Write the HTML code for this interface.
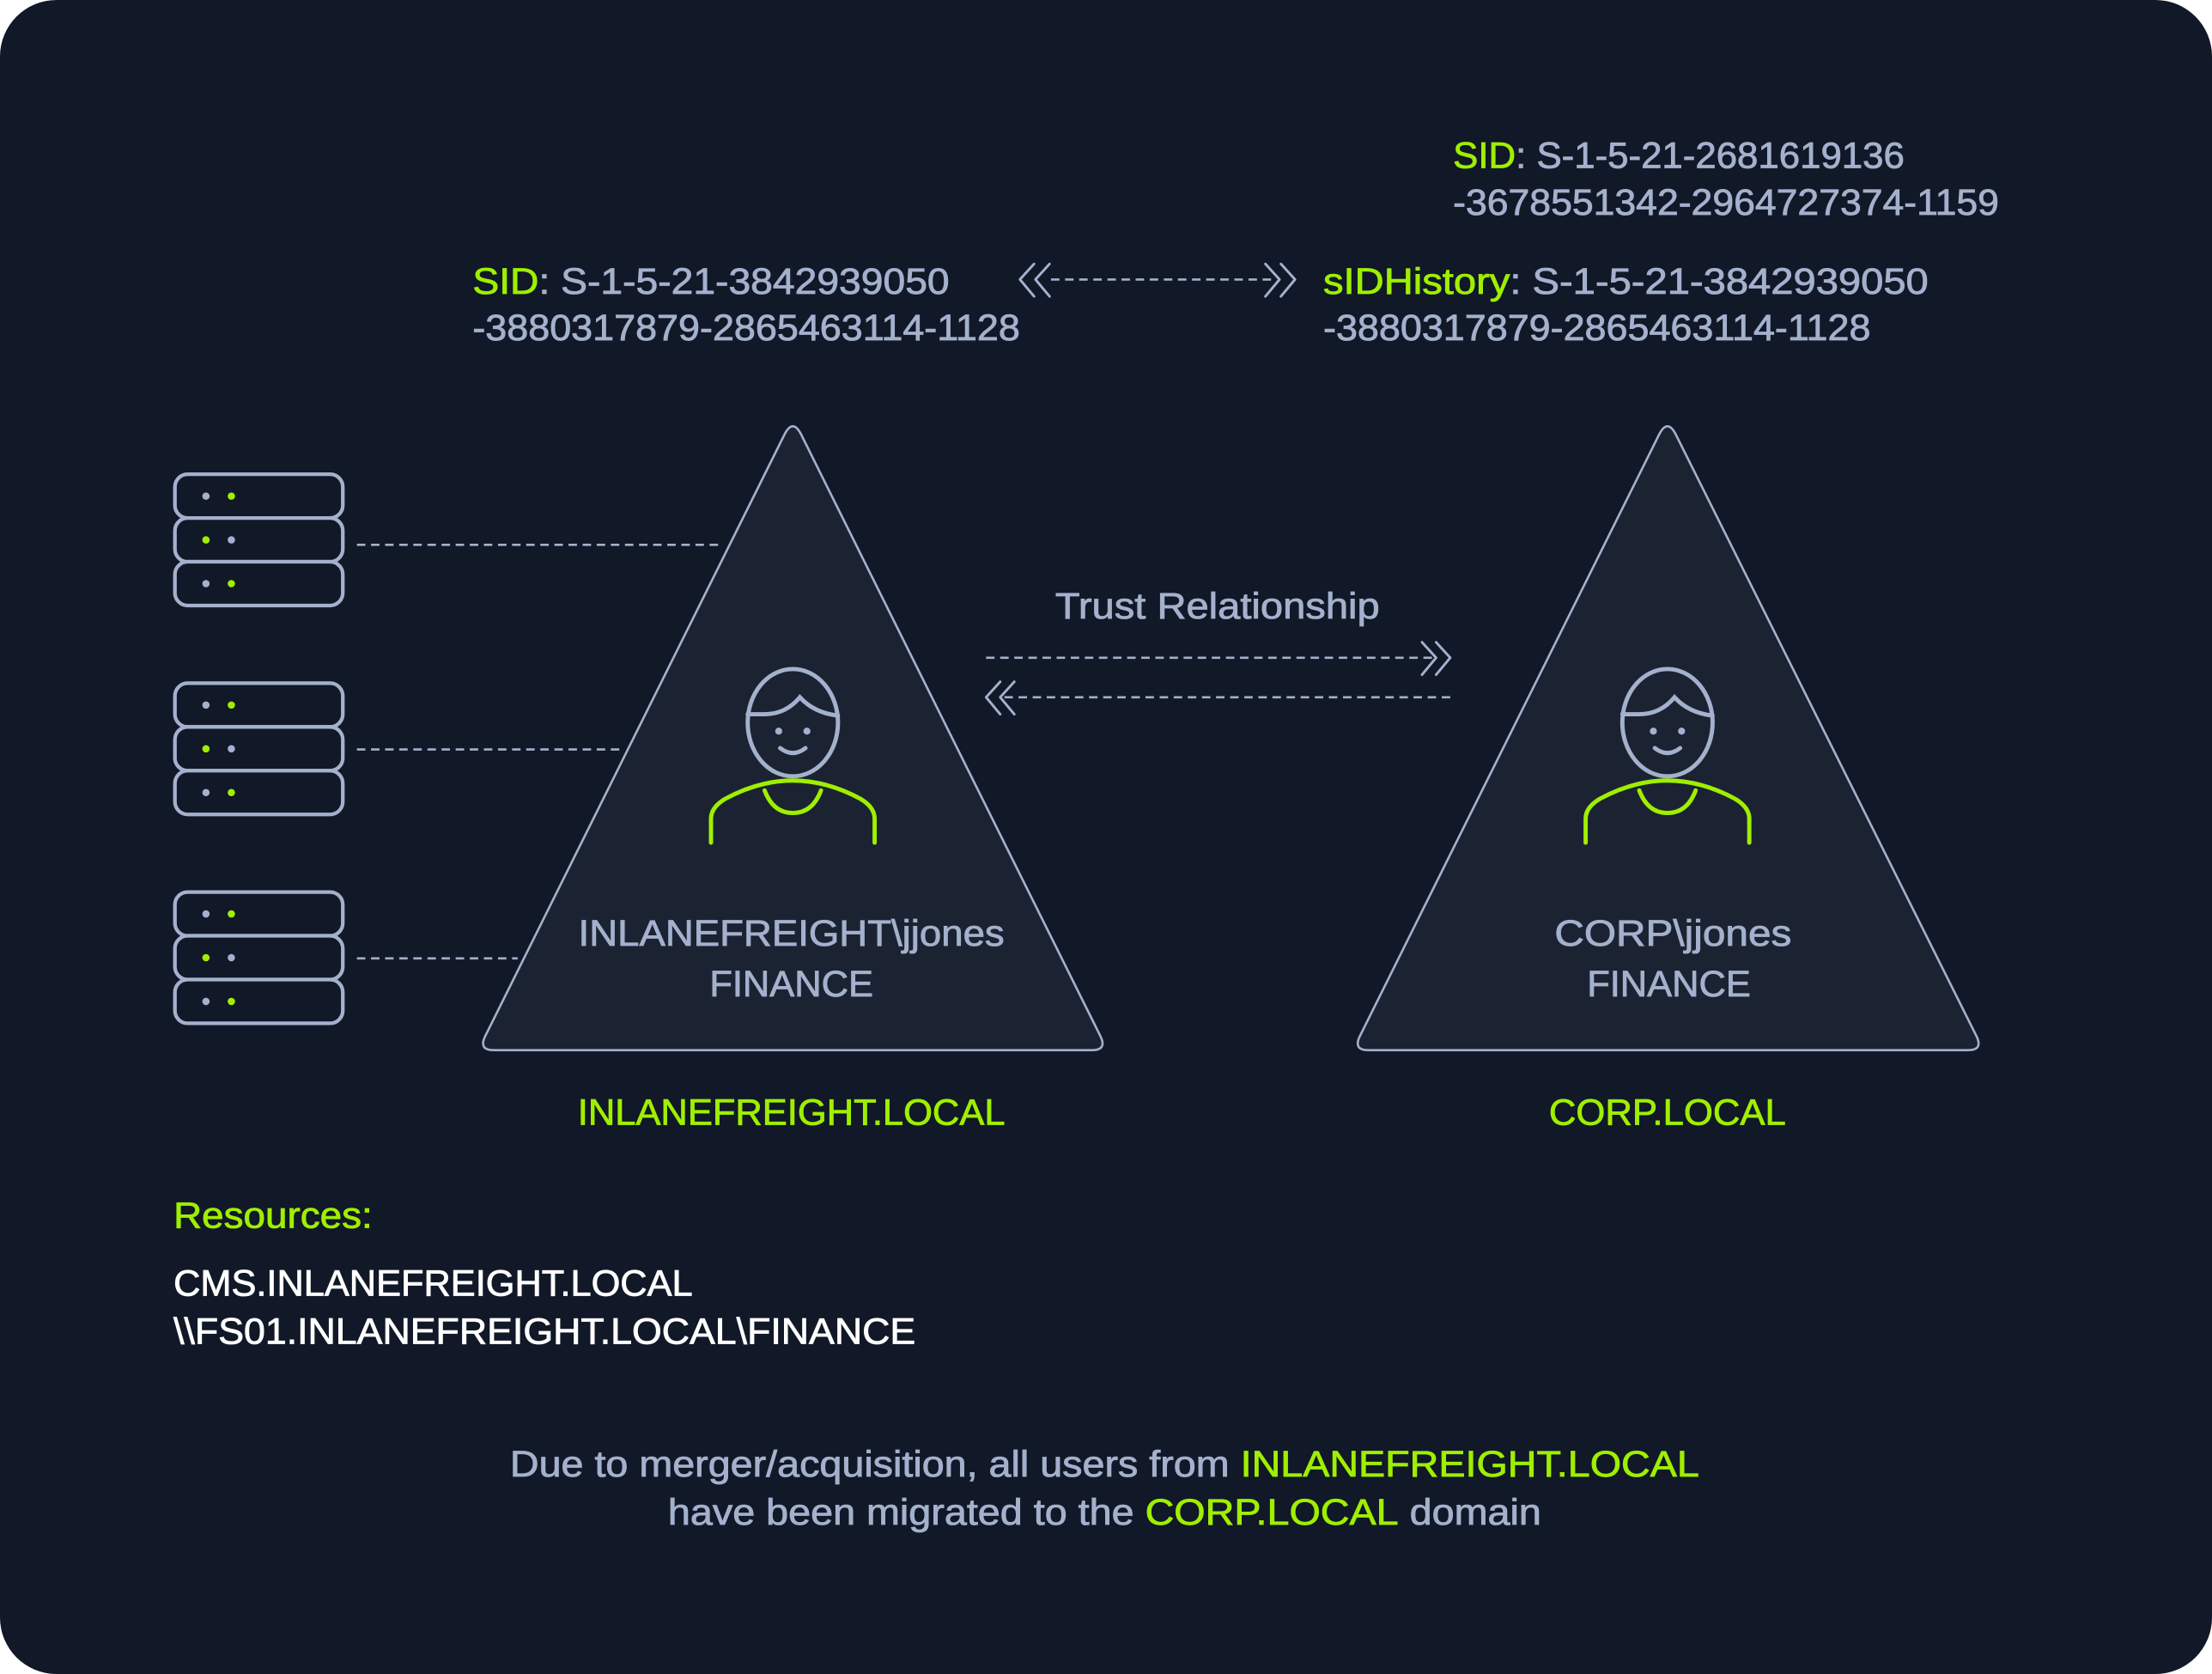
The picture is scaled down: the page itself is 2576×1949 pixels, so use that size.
<!DOCTYPE html>
<html><head><meta charset="utf-8"><style>
html,body{margin:0;padding:0;background:#fff;}
svg{display:block}
text{font-family:"Liberation Sans",sans-serif;}
</style></head><body>
<svg width="2576" height="1949" viewBox="0 0 1568 1186" preserveAspectRatio="none">
<rect x="0" y="0" width="1568" height="1186" rx="40" fill="#111827"/>
<g fill="#1b2332" stroke="#a4b1cd" stroke-width="1.6" stroke-linejoin="round">
<path d="M556,308 Q562,296 568,308 L780,734 Q785,744 774,744 L350,744 Q339,744 344,734 Z"/>
<path d="M1176,308 Q1182,296 1188,308 L1401,734 Q1406,744 1395,744 L970,744 Q959,744 964,734 Z"/>
</g>
<g stroke="#a4b1cd" stroke-width="1.6" stroke-dasharray="6,4" fill="none">
<line x1="253" y1="386" x2="513" y2="386"/>
<line x1="253" y1="531" x2="441" y2="531"/>
<line x1="253" y1="679" x2="367" y2="679"/>
<line x1="745" y1="198" x2="905" y2="198"/>
<line x1="699" y1="466" x2="1016" y2="466"/>
<line x1="712" y1="494" x2="1028" y2="494"/>
</g>
<g stroke="#a4b1cd" stroke-width="1.8" fill="none" stroke-linecap="round" stroke-linejoin="round">
<path d="M733,187 L723,198 L733,210 M744,187 L734,198 L744,210"/>
<path d="M908,187 L918,198 L908,210 M897,187 L907,198 L897,210"/>
<path d="M1018,455 L1028,466 L1018,478 M1008,455 L1018,466 L1008,478"/>
<path d="M709,483 L699,494 L709,506 M719,483 L709,494 L719,506"/>
</g>
<g id="servers" stroke="#a4b1cd" stroke-width="2.6" fill="none"></g>
<g fill="none" stroke-width="3" stroke-linecap="round">
<ellipse cx="562" cy="512" rx="32" ry="38" stroke="#a4b1cd"/>
<path d="M530,506 L542,506 Q557,506 567,494 Q577,505 594,507" stroke="#a4b1cd"/>
<circle cx="552" cy="518" r="2.5" fill="#a4b1cd" stroke="none"/><circle cx="572" cy="518" r="2.5" fill="#a4b1cd" stroke="none"/>
<path d="M553,530 Q562,537 571,530" stroke="#a4b1cd"/>
<path d="M504,597 L504,580 Q504,572 514,566 Q562,540 610,566 Q620,572 620,580 L620,597" stroke="#9fef00"/>
<path d="M542,560 Q548,576 562,576 Q576,576 582,560" stroke="#9fef00"/>
</g>
<g fill="none" stroke-width="3" stroke-linecap="round">
<ellipse cx="1182" cy="512" rx="32" ry="38" stroke="#a4b1cd"/>
<path d="M1150,506 L1162,506 Q1177,506 1187,494 Q1197,505 1214,507" stroke="#a4b1cd"/>
<circle cx="1172" cy="518" r="2.5" fill="#a4b1cd" stroke="none"/><circle cx="1192" cy="518" r="2.5" fill="#a4b1cd" stroke="none"/>
<path d="M1173,530 Q1182,537 1191,530" stroke="#a4b1cd"/>
<path d="M1124,597 L1124,580 Q1124,572 1134,566 Q1182,540 1230,566 Q1240,572 1240,580 L1240,597" stroke="#9fef00"/>
<path d="M1162,560 Q1168,576 1182,576 Q1196,576 1202,560" stroke="#9fef00"/>
</g>
<g font-size="26" fill="#a4b1cd" stroke-width="0.5">
<text x="335" y="208" textLength="338" lengthAdjust="spacingAndGlyphs" stroke="#a4b1cd"><tspan fill="#9fef00" stroke="#9fef00">SID</tspan>: S-1-5-21-3842939050</text>
<text x="335" y="241" textLength="388" lengthAdjust="spacingAndGlyphs" stroke="#a4b1cd">-3880317879-2865463114-1128</text>
<text x="1030" y="119" textLength="320" lengthAdjust="spacingAndGlyphs" stroke="#a4b1cd"><tspan fill="#9fef00" stroke="#9fef00">SID</tspan>: S-1-5-21-2681619136</text>
<text x="1030" y="152" textLength="387" lengthAdjust="spacingAndGlyphs" stroke="#a4b1cd">-3678551342-2964727374-1159</text>
<text x="938" y="208" textLength="429" lengthAdjust="spacingAndGlyphs" stroke="#a4b1cd"><tspan fill="#9fef00" stroke="#9fef00">sIDHistory</tspan>: S-1-5-21-3842939050</text>
<text x="938" y="241" textLength="388" lengthAdjust="spacingAndGlyphs" stroke="#a4b1cd">-3880317879-2865463114-1128</text>
<text x="863" y="438" text-anchor="middle" textLength="230" lengthAdjust="spacingAndGlyphs" stroke="#a4b1cd">Trust Relationship</text>
<text x="561" y="670" text-anchor="middle" textLength="302" lengthAdjust="spacingAndGlyphs" stroke="#a4b1cd">INLANEFREIGHT\jjones</text>
<text x="561" y="706" text-anchor="middle" textLength="116" lengthAdjust="spacingAndGlyphs" stroke="#a4b1cd">FINANCE</text>
<text x="1186" y="670" text-anchor="middle" textLength="168" lengthAdjust="spacingAndGlyphs" stroke="#a4b1cd">CORP\jjones</text>
<text x="1183" y="706" text-anchor="middle" textLength="116" lengthAdjust="spacingAndGlyphs" stroke="#a4b1cd">FINANCE</text>
<text x="561" y="797" text-anchor="middle" fill="#9fef00" stroke="#9fef00" textLength="303" lengthAdjust="spacingAndGlyphs">INLANEFREIGHT.LOCAL</text>
<text x="1182" y="797" text-anchor="middle" fill="#9fef00" stroke="#9fef00" textLength="168" lengthAdjust="spacingAndGlyphs">CORP.LOCAL</text>
<text x="123" y="870" fill="#9fef00" stroke="#9fef00" textLength="141" lengthAdjust="spacingAndGlyphs">Resources:</text>
<text x="123" y="918" fill="#ffffff" stroke="#ffffff" textLength="368" lengthAdjust="spacingAndGlyphs">CMS.INLANEFREIGHT.LOCAL</text>
<text x="123" y="952" fill="#ffffff" stroke="#ffffff" textLength="526" lengthAdjust="spacingAndGlyphs">\\FS01.INLANEFREIGHT.LOCAL\FINANCE</text>
<text x="783" y="1046" text-anchor="middle" textLength="843" lengthAdjust="spacingAndGlyphs" stroke="#a4b1cd">Due to merger/acquisition, all users from <tspan fill="#9fef00" stroke="#9fef00">INLANEFREIGHT.LOCAL</tspan></text>
<text x="783" y="1080" text-anchor="middle" textLength="619" lengthAdjust="spacingAndGlyphs" stroke="#a4b1cd">have been migrated to the <tspan fill="#9fef00" stroke="#9fef00">CORP.LOCAL</tspan> domain</text>
</g>
<script>
var NS='http://www.w3.org/2000/svg';
var stackTops=[336,484,632];
var dotColors=[['#a4b1cd','#9fef00'],['#9fef00','#a4b1cd'],['#a4b1cd','#9fef00']];
var sg=document.getElementById('servers');
stackTops.forEach(function(t,i){
  var g=document.createElementNS(NS,'g');
  
  
  for(var r=0;r<3;r++){
    var y=t+r*31;
    var rc=document.createElementNS(NS,'rect');
    rc.setAttribute('x',124);rc.setAttribute('y',y);rc.setAttribute('width',119);rc.setAttribute('height',31);rc.setAttribute('rx',9);
    rc.setAttribute('fill','#111827');
    
    
    g.appendChild(rc);
    for(var d=0;d<2;d++){
      var c=document.createElementNS(NS,'circle');
      c.setAttribute('cx',146+d*18);c.setAttribute('cy',y+15.5);c.setAttribute('r',2.6);
      c.setAttribute('fill',dotColors[r][d]);c.setAttribute('stroke','none');
      
      
      g.appendChild(c);
    }
  }
  sg.appendChild(g);
});
</script>
</svg>
</body></html>
